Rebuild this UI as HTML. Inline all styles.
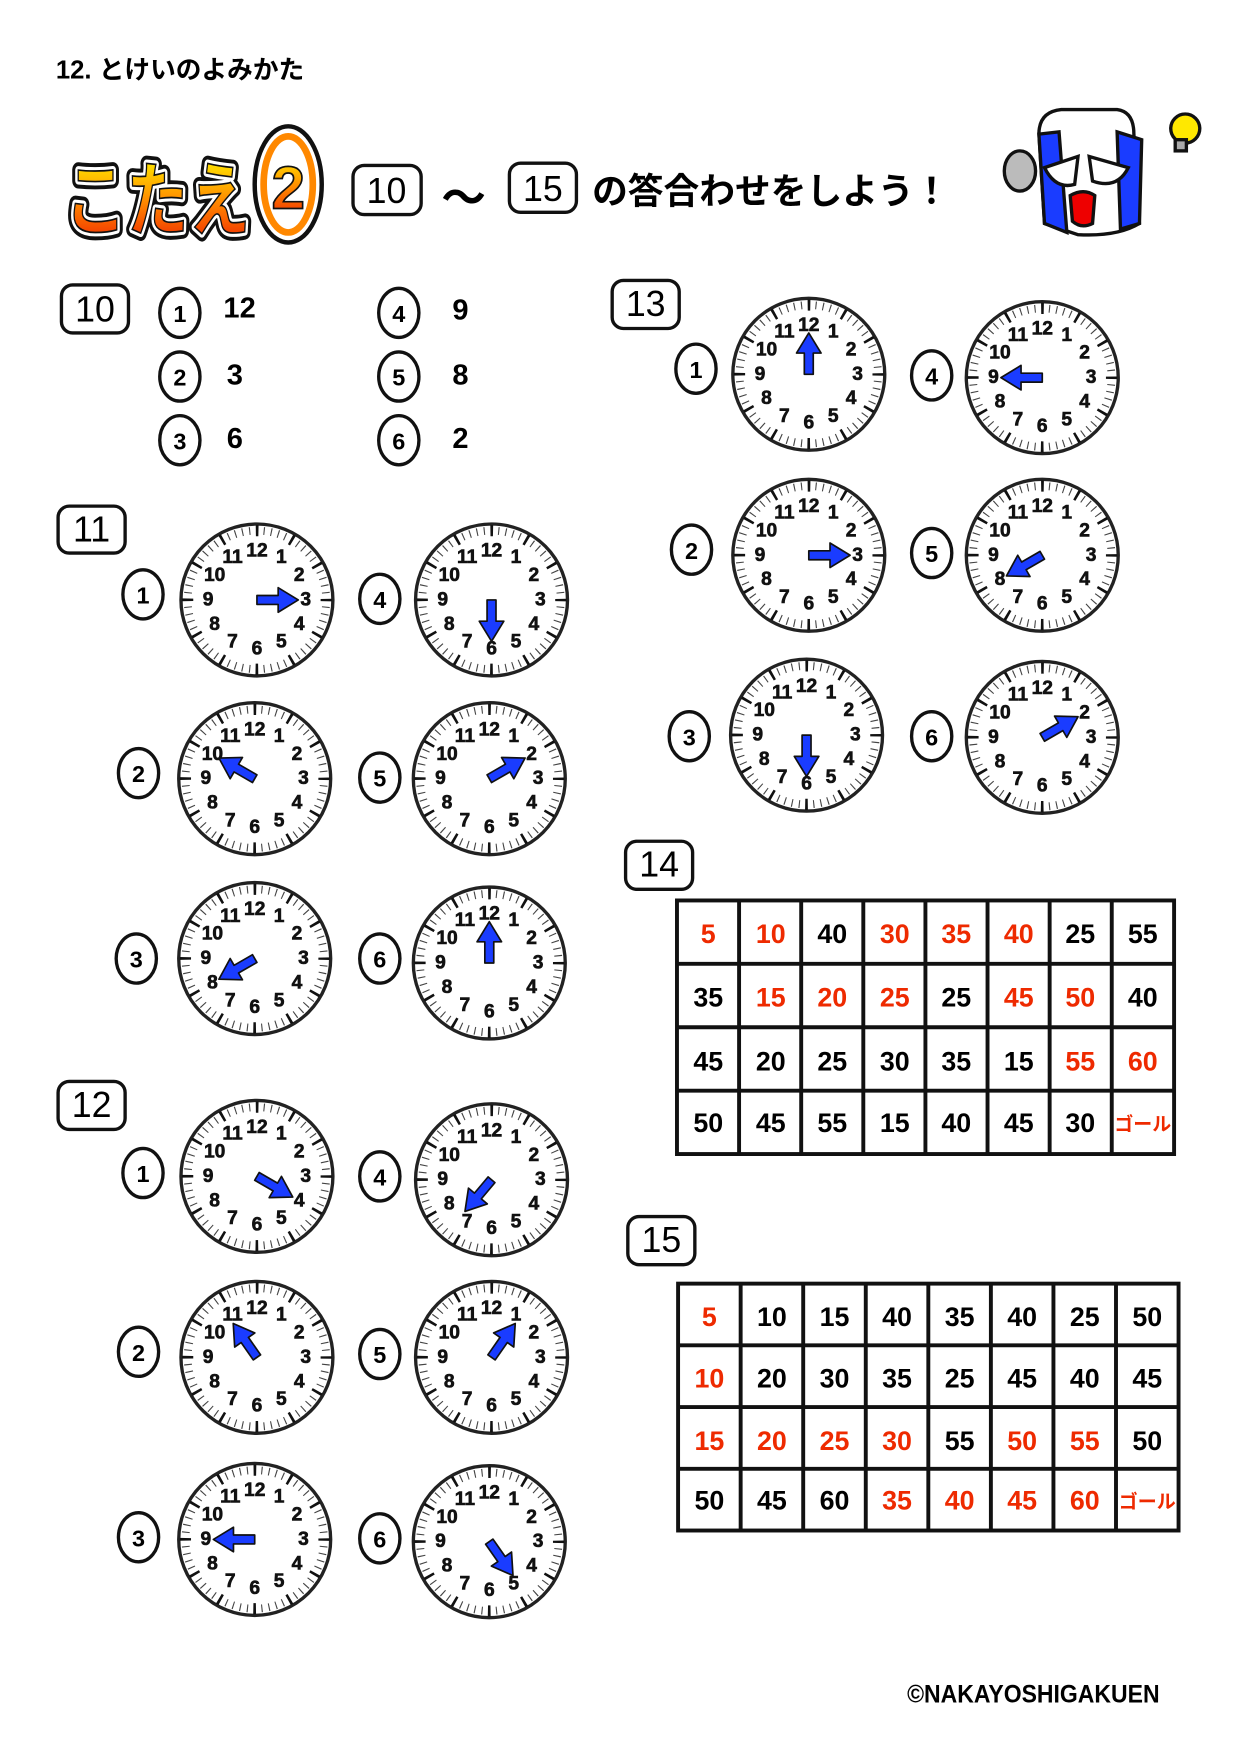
<!DOCTYPE html>
<html><head><meta charset="utf-8"><style>
html,body{margin:0;padding:0;background:#fff}
svg{display:block}
text{font-family:"Liberation Sans","Noto Sans CJK JP",sans-serif}
.f text{font-size:18.5px;font-weight:900;text-anchor:middle;dominant-baseline:central;fill:#111;stroke:#111;stroke-width:0.6}
.lb{font-size:21px;font-weight:bold;text-anchor:middle;dominant-baseline:central}
.bx{font-size:32px;text-anchor:middle;dominant-baseline:central;font-weight:normal}
.ans{font-size:26px;font-weight:bold;dominant-baseline:central}
.t text{font-size:24px;font-weight:bold;text-anchor:middle;dominant-baseline:central}
.r{fill:#ee2a00}
</style></head><body>
<svg width="1240" height="1754" viewBox="0 0 1110 1570" xmlns="http://www.w3.org/2000/svg">
<defs>
<linearGradient id="g" x1="0" y1="0" x2="0" y2="1"><stop offset="0" stop-color="#ffee00"/><stop offset="0.5" stop-color="#ff8800"/><stop offset="1" stop-color="#ee2200"/></linearGradient>
<g id="face">
<circle r="68" fill="#fff" stroke="#222" stroke-width="3"/>
<circle r="62" fill="none" stroke="#444" stroke-width="7" stroke-dasharray="1 5.49" stroke-dashoffset="0.5"/>
<circle r="62" fill="none" stroke="#111" stroke-width="10" stroke-dasharray="2.4 30.07" stroke-dashoffset="1.2"/>
</g>
<polygon id="hand" points="-4,0 4,0 4,-19 11,-19 0,-37 -11,-19 -4,-19" fill="#1a3cff" stroke="#111" stroke-width="1.5" stroke-linejoin="round"/>
</defs>

<text x="50" y="70" font-size="23" font-weight="bold">12. とけいのよみかた</text>

<!-- logo -->
<g font-size="72" font-weight="bold" font-family="'Noto Sans CJK JP',sans-serif">
<text x="58" y="205" textLength="166" lengthAdjust="spacingAndGlyphs" stroke="#111" stroke-width="14" stroke-linejoin="round" fill="#111">こたえ</text>
<text x="58" y="205" textLength="166" lengthAdjust="spacingAndGlyphs" stroke="#fff" stroke-width="7" stroke-linejoin="round" fill="#fff">こたえ</text>
<text x="58" y="205" textLength="166" lengthAdjust="spacingAndGlyphs" fill="url(#g)" stroke="#111" stroke-width="1.5">こたえ</text>
</g>
<ellipse cx="258" cy="165" rx="30" ry="52" fill="#fff" stroke="#111" stroke-width="4"/>
<ellipse cx="258" cy="165" rx="22" ry="43" fill="none" stroke="#f80" stroke-width="6"/>
<text x="258" y="168" font-size="54" font-weight="bold" fill="url(#g)" stroke="#111" stroke-width="1.5" text-anchor="middle" dominant-baseline="central">2</text>

<rect x="316" y="148" width="61" height="44" rx="10" fill="#fff" stroke="#111" stroke-width="3"/>
<text class="bx" x="346" y="171">10</text>
<text x="415" y="178" font-size="40" font-weight="bold" text-anchor="middle" dominant-baseline="central">〜</text>
<rect x="456" y="146" width="60" height="44" rx="10" fill="#fff" stroke="#111" stroke-width="3"/>
<text class="bx" x="486" y="169">15</text>
<text x="530" y="182" font-size="32" font-weight="bold">の答合わせをしよう！</text>

<!-- character -->
<g stroke="#111" stroke-width="3">
<ellipse cx="913" cy="153" rx="14" ry="18" fill="#bbb"/>
<path d="M930 120 Q930 100 950 98 L1000 98 Q1015 100 1015 120 L1020 200 Q1000 212 965 210 L935 200 Z" fill="#fff"/>
<path d="M930 120 L948 118 L955 208 L935 200 Z" fill="#1a3cff"/>
<path d="M1000 118 L1022 125 L1020 200 L1003 205 Z" fill="#1a3cff"/>
<path d="M935 150 L965 140 L962 165 Q945 170 935 150Z" fill="#fff"/>
<path d="M975 140 L1010 150 Q1000 170 978 162Z" fill="#fff"/>
<path d="M958 175 Q970 168 980 175 L978 200 Q968 205 960 198Z" fill="#e00"/>
<circle cx="1061" cy="115" r="13" fill="#ffe800"/>
<rect x="1052" y="125" width="10" height="10" fill="#aaa"/>
</g>

<!-- section 10 -->
<rect x="55" y="255" width="60" height="43" rx="10" fill="none" stroke="#111" stroke-width="3"/>
<text class="bx" x="85" y="277">10</text>
<g fill="none" stroke="#111" stroke-width="3">
<ellipse cx="161" cy="280" rx="18" ry="22"/><ellipse cx="161" cy="337" rx="18" ry="22"/><ellipse cx="161" cy="394" rx="18" ry="22"/>
<ellipse cx="357" cy="280" rx="18" ry="22"/><ellipse cx="357" cy="337" rx="18" ry="22"/><ellipse cx="357" cy="394" rx="18" ry="22"/>
</g>
<text class="lb" x="161" y="281">1</text><text class="lb" x="161" y="338">2</text><text class="lb" x="161" y="395">3</text>
<text class="lb" x="357" y="281">4</text><text class="lb" x="357" y="338">5</text><text class="lb" x="357" y="395">6</text>
<text class="ans" x="200" y="276">12</text><text class="ans" x="203" y="336">3</text><text class="ans" x="203" y="393">6</text>
<text class="ans" x="405" y="278">9</text><text class="ans" x="405" y="336">8</text><text class="ans" x="405" y="393">2</text>

<!-- section boxes -->
<rect x="52" y="453" width="60" height="42" rx="10" fill="none" stroke="#111" stroke-width="3"/><text class="bx" x="82" y="474">11</text>
<rect x="52" y="968" width="60" height="43" rx="10" fill="none" stroke="#111" stroke-width="3"/><text class="bx" x="82" y="989">12</text>
<rect x="548" y="251" width="60" height="43" rx="10" fill="none" stroke="#111" stroke-width="3"/><text class="bx" x="578" y="272">13</text>
<rect x="560" y="753" width="60" height="43" rx="10" fill="none" stroke="#111" stroke-width="3"/><text class="bx" x="590" y="774">14</text>
<rect x="562" y="1089" width="60" height="43" rx="10" fill="none" stroke="#111" stroke-width="3"/><text class="bx" x="592" y="1110">15</text>

<!-- label circles -->
<g fill="none" stroke="#111" stroke-width="3">
<ellipse cx="128" cy="532" rx="18" ry="22"/><ellipse cx="340" cy="536" rx="18" ry="22"/>
<ellipse cx="124" cy="692" rx="18" ry="22"/><ellipse cx="340" cy="696" rx="18" ry="22"/>
<ellipse cx="122" cy="858" rx="18" ry="22"/><ellipse cx="340" cy="858" rx="18" ry="22"/>
<ellipse cx="128" cy="1050" rx="18" ry="22"/><ellipse cx="340" cy="1053" rx="18" ry="22"/>
<ellipse cx="124" cy="1210" rx="18" ry="22"/><ellipse cx="340" cy="1212" rx="18" ry="22"/>
<ellipse cx="124" cy="1376" rx="18" ry="22"/><ellipse cx="340" cy="1377" rx="18" ry="22"/>
<ellipse cx="623" cy="330" rx="18" ry="22"/><ellipse cx="834" cy="336" rx="18" ry="22"/>
<ellipse cx="619" cy="492" rx="18" ry="22"/><ellipse cx="834" cy="495" rx="18" ry="22"/>
<ellipse cx="617" cy="659" rx="18" ry="22"/><ellipse cx="834" cy="659" rx="18" ry="22"/>
</g>
<text class="lb" x="128" y="533">1</text><text class="lb" x="340" y="537">4</text>
<text class="lb" x="124" y="693">2</text><text class="lb" x="340" y="697">5</text>
<text class="lb" x="122" y="859">3</text><text class="lb" x="340" y="859">6</text>
<text class="lb" x="128" y="1051">1</text><text class="lb" x="340" y="1054">4</text>
<text class="lb" x="124" y="1211">2</text><text class="lb" x="340" y="1213">5</text>
<text class="lb" x="124" y="1377">3</text><text class="lb" x="340" y="1378">6</text>
<text class="lb" x="623" y="331">1</text><text class="lb" x="834" y="337">4</text>
<text class="lb" x="619" y="493">2</text><text class="lb" x="834" y="496">5</text>
<text class="lb" x="617" y="660">3</text><text class="lb" x="834" y="660">6</text>

<!-- clocks -->
<g class="f" transform="translate(230,537)"><use href="#face"/><g transform="scale(0.93)"><text x="0" y="-47">12</text><text x="23.5" y="-40.7">1</text><text x="40.7" y="-23.5">2</text><text x="47" y="0">3</text><text x="40.7" y="23.5">4</text><text x="23.5" y="40.7">5</text><text x="0" y="47">6</text><text x="-23.5" y="40.7">7</text><text x="-40.7" y="23.5">8</text><text x="-47" y="0">9</text><text x="-40.7" y="-23.5">10</text><text x="-23.5" y="-40.7">11</text></g><use href="#hand" transform="rotate(90)"/></g>
<g class="f" transform="translate(440,537)"><use href="#face"/><g transform="scale(0.93)"><text x="0" y="-47">12</text><text x="23.5" y="-40.7">1</text><text x="40.7" y="-23.5">2</text><text x="47" y="0">3</text><text x="40.7" y="23.5">4</text><text x="23.5" y="40.7">5</text><text x="0" y="47">6</text><text x="-23.5" y="40.7">7</text><text x="-40.7" y="23.5">8</text><text x="-47" y="0">9</text><text x="-40.7" y="-23.5">10</text><text x="-23.5" y="-40.7">11</text></g><use href="#hand" transform="rotate(180)"/></g>
<g class="f" transform="translate(228,697)"><use href="#face"/><g transform="scale(0.93)"><text x="0" y="-47">12</text><text x="23.5" y="-40.7">1</text><text x="40.7" y="-23.5">2</text><text x="47" y="0">3</text><text x="40.7" y="23.5">4</text><text x="23.5" y="40.7">5</text><text x="0" y="47">6</text><text x="-23.5" y="40.7">7</text><text x="-40.7" y="23.5">8</text><text x="-47" y="0">9</text><text x="-40.7" y="-23.5">10</text><text x="-23.5" y="-40.7">11</text></g><use href="#hand" transform="rotate(300)"/></g>
<g class="f" transform="translate(438,697)"><use href="#face"/><g transform="scale(0.93)"><text x="0" y="-47">12</text><text x="23.5" y="-40.7">1</text><text x="40.7" y="-23.5">2</text><text x="47" y="0">3</text><text x="40.7" y="23.5">4</text><text x="23.5" y="40.7">5</text><text x="0" y="47">6</text><text x="-23.5" y="40.7">7</text><text x="-40.7" y="23.5">8</text><text x="-47" y="0">9</text><text x="-40.7" y="-23.5">10</text><text x="-23.5" y="-40.7">11</text></g><use href="#hand" transform="rotate(60)"/></g>
<g class="f" transform="translate(228,858)"><use href="#face"/><g transform="scale(0.93)"><text x="0" y="-47">12</text><text x="23.5" y="-40.7">1</text><text x="40.7" y="-23.5">2</text><text x="47" y="0">3</text><text x="40.7" y="23.5">4</text><text x="23.5" y="40.7">5</text><text x="0" y="47">6</text><text x="-23.5" y="40.7">7</text><text x="-40.7" y="23.5">8</text><text x="-47" y="0">9</text><text x="-40.7" y="-23.5">10</text><text x="-23.5" y="-40.7">11</text></g><use href="#hand" transform="rotate(240)"/></g>
<g class="f" transform="translate(438,862)"><use href="#face"/><g transform="scale(0.93)"><text x="0" y="-47">12</text><text x="23.5" y="-40.7">1</text><text x="40.7" y="-23.5">2</text><text x="47" y="0">3</text><text x="40.7" y="23.5">4</text><text x="23.5" y="40.7">5</text><text x="0" y="47">6</text><text x="-23.5" y="40.7">7</text><text x="-40.7" y="23.5">8</text><text x="-47" y="0">9</text><text x="-40.7" y="-23.5">10</text><text x="-23.5" y="-40.7">11</text></g><use href="#hand" transform="rotate(0)"/></g>

<g class="f" transform="translate(230,1053)"><use href="#face"/><g transform="scale(0.93)"><text x="0" y="-47">12</text><text x="23.5" y="-40.7">1</text><text x="40.7" y="-23.5">2</text><text x="47" y="0">3</text><text x="40.7" y="23.5">4</text><text x="23.5" y="40.7">5</text><text x="0" y="47">6</text><text x="-23.5" y="40.7">7</text><text x="-40.7" y="23.5">8</text><text x="-47" y="0">9</text><text x="-40.7" y="-23.5">10</text><text x="-23.5" y="-40.7">11</text></g><use href="#hand" transform="rotate(120)"/></g>
<g class="f" transform="translate(440,1056)"><use href="#face"/><g transform="scale(0.93)"><text x="0" y="-47">12</text><text x="23.5" y="-40.7">1</text><text x="40.7" y="-23.5">2</text><text x="47" y="0">3</text><text x="40.7" y="23.5">4</text><text x="23.5" y="40.7">5</text><text x="0" y="47">6</text><text x="-23.5" y="40.7">7</text><text x="-40.7" y="23.5">8</text><text x="-47" y="0">9</text><text x="-40.7" y="-23.5">10</text><text x="-23.5" y="-40.7">11</text></g><use href="#hand" transform="rotate(220)"/></g>
<g class="f" transform="translate(230,1215)"><use href="#face"/><g transform="scale(0.93)"><text x="0" y="-47">12</text><text x="23.5" y="-40.7">1</text><text x="40.7" y="-23.5">2</text><text x="47" y="0">3</text><text x="40.7" y="23.5">4</text><text x="23.5" y="40.7">5</text><text x="0" y="47">6</text><text x="-23.5" y="40.7">7</text><text x="-40.7" y="23.5">8</text><text x="-47" y="0">9</text><text x="-40.7" y="-23.5">10</text><text x="-23.5" y="-40.7">11</text></g><use href="#hand" transform="rotate(325)"/></g>
<g class="f" transform="translate(440,1215)"><use href="#face"/><g transform="scale(0.93)"><text x="0" y="-47">12</text><text x="23.5" y="-40.7">1</text><text x="40.7" y="-23.5">2</text><text x="47" y="0">3</text><text x="40.7" y="23.5">4</text><text x="23.5" y="40.7">5</text><text x="0" y="47">6</text><text x="-23.5" y="40.7">7</text><text x="-40.7" y="23.5">8</text><text x="-47" y="0">9</text><text x="-40.7" y="-23.5">10</text><text x="-23.5" y="-40.7">11</text></g><use href="#hand" transform="rotate(35)"/></g>
<g class="f" transform="translate(228,1378)"><use href="#face"/><g transform="scale(0.93)"><text x="0" y="-47">12</text><text x="23.5" y="-40.7">1</text><text x="40.7" y="-23.5">2</text><text x="47" y="0">3</text><text x="40.7" y="23.5">4</text><text x="23.5" y="40.7">5</text><text x="0" y="47">6</text><text x="-23.5" y="40.7">7</text><text x="-40.7" y="23.5">8</text><text x="-47" y="0">9</text><text x="-40.7" y="-23.5">10</text><text x="-23.5" y="-40.7">11</text></g><use href="#hand" transform="rotate(270)"/></g>
<g class="f" transform="translate(438,1380)"><use href="#face"/><g transform="scale(0.93)"><text x="0" y="-47">12</text><text x="23.5" y="-40.7">1</text><text x="40.7" y="-23.5">2</text><text x="47" y="0">3</text><text x="40.7" y="23.5">4</text><text x="23.5" y="40.7">5</text><text x="0" y="47">6</text><text x="-23.5" y="40.7">7</text><text x="-40.7" y="23.5">8</text><text x="-47" y="0">9</text><text x="-40.7" y="-23.5">10</text><text x="-23.5" y="-40.7">11</text></g><use href="#hand" transform="rotate(145)"/></g>

<g class="f" transform="translate(724,335)"><use href="#face"/><g transform="scale(0.93)"><text x="0" y="-47">12</text><text x="23.5" y="-40.7">1</text><text x="40.7" y="-23.5">2</text><text x="47" y="0">3</text><text x="40.7" y="23.5">4</text><text x="23.5" y="40.7">5</text><text x="0" y="47">6</text><text x="-23.5" y="40.7">7</text><text x="-40.7" y="23.5">8</text><text x="-47" y="0">9</text><text x="-40.7" y="-23.5">10</text><text x="-23.5" y="-40.7">11</text></g><use href="#hand" transform="rotate(0)"/></g>
<g class="f" transform="translate(933,338)"><use href="#face"/><g transform="scale(0.93)"><text x="0" y="-47">12</text><text x="23.5" y="-40.7">1</text><text x="40.7" y="-23.5">2</text><text x="47" y="0">3</text><text x="40.7" y="23.5">4</text><text x="23.5" y="40.7">5</text><text x="0" y="47">6</text><text x="-23.5" y="40.7">7</text><text x="-40.7" y="23.5">8</text><text x="-47" y="0">9</text><text x="-40.7" y="-23.5">10</text><text x="-23.5" y="-40.7">11</text></g><use href="#hand" transform="rotate(270)"/></g>
<g class="f" transform="translate(724,497)"><use href="#face"/><g transform="scale(0.93)"><text x="0" y="-47">12</text><text x="23.5" y="-40.7">1</text><text x="40.7" y="-23.5">2</text><text x="47" y="0">3</text><text x="40.7" y="23.5">4</text><text x="23.5" y="40.7">5</text><text x="0" y="47">6</text><text x="-23.5" y="40.7">7</text><text x="-40.7" y="23.5">8</text><text x="-47" y="0">9</text><text x="-40.7" y="-23.5">10</text><text x="-23.5" y="-40.7">11</text></g><use href="#hand" transform="rotate(90)"/></g>
<g class="f" transform="translate(933,497)"><use href="#face"/><g transform="scale(0.93)"><text x="0" y="-47">12</text><text x="23.5" y="-40.7">1</text><text x="40.7" y="-23.5">2</text><text x="47" y="0">3</text><text x="40.7" y="23.5">4</text><text x="23.5" y="40.7">5</text><text x="0" y="47">6</text><text x="-23.5" y="40.7">7</text><text x="-40.7" y="23.5">8</text><text x="-47" y="0">9</text><text x="-40.7" y="-23.5">10</text><text x="-23.5" y="-40.7">11</text></g><use href="#hand" transform="rotate(240)"/></g>
<g class="f" transform="translate(722,658)"><use href="#face"/><g transform="scale(0.93)"><text x="0" y="-47">12</text><text x="23.5" y="-40.7">1</text><text x="40.7" y="-23.5">2</text><text x="47" y="0">3</text><text x="40.7" y="23.5">4</text><text x="23.5" y="40.7">5</text><text x="0" y="47">6</text><text x="-23.5" y="40.7">7</text><text x="-40.7" y="23.5">8</text><text x="-47" y="0">9</text><text x="-40.7" y="-23.5">10</text><text x="-23.5" y="-40.7">11</text></g><use href="#hand" transform="rotate(180)"/></g>
<g class="f" transform="translate(933,660)"><use href="#face"/><g transform="scale(0.93)"><text x="0" y="-47">12</text><text x="23.5" y="-40.7">1</text><text x="40.7" y="-23.5">2</text><text x="47" y="0">3</text><text x="40.7" y="23.5">4</text><text x="23.5" y="40.7">5</text><text x="0" y="47">6</text><text x="-23.5" y="40.7">7</text><text x="-40.7" y="23.5">8</text><text x="-47" y="0">9</text><text x="-40.7" y="-23.5">10</text><text x="-23.5" y="-40.7">11</text></g><use href="#hand" transform="rotate(60)"/></g>

<!-- table 14 -->
<g fill="none" stroke="#111" stroke-width="3.5">
<rect x="606" y="806" width="445" height="227"/>
<path d="M661.6 806V1033M717.2 806V1033M772.8 806V1033M828.4 806V1033M884 806V1033M939.6 806V1033M995.2 806V1033M606 862.75H1051M606 919.5H1051M606 976.25H1051"/>
</g>
<g class="t">
<text x="634" y="836" class="r">5</text><text x="690" y="836" class="r">10</text><text x="745" y="836">40</text><text x="801" y="836" class="r">30</text><text x="856" y="836" class="r">35</text><text x="912" y="836" class="r">40</text><text x="967" y="836">25</text><text x="1023" y="836">55</text>
<text x="634" y="893">35</text><text x="690" y="893" class="r">15</text><text x="745" y="893" class="r">20</text><text x="801" y="893" class="r">25</text><text x="856" y="893">25</text><text x="912" y="893" class="r">45</text><text x="967" y="893" class="r">50</text><text x="1023" y="893">40</text>
<text x="634" y="950">45</text><text x="690" y="950">20</text><text x="745" y="950">25</text><text x="801" y="950">30</text><text x="856" y="950">35</text><text x="912" y="950">15</text><text x="967" y="950" class="r">55</text><text x="1023" y="950" class="r">60</text>
<text x="634" y="1005">50</text><text x="690" y="1005">45</text><text x="745" y="1005">55</text><text x="801" y="1005">15</text><text x="856" y="1005">40</text><text x="912" y="1005">45</text><text x="967" y="1005">30</text><text x="1023" y="1007" class="r" style="font-size:17px">ゴール</text>
</g>

<!-- table 15 -->
<g fill="none" stroke="#111" stroke-width="3.5">
<rect x="607" y="1149" width="448" height="221"/>
<path d="M663 1149V1370M719 1149V1370M775 1149V1370M831 1149V1370M887 1149V1370M943 1149V1370M999 1149V1370M607 1204.25H1055M607 1259.5H1055M607 1314.75H1055"/>
</g>
<g class="t">
<text x="635" y="1179" class="r">5</text><text x="691" y="1179">10</text><text x="747" y="1179">15</text><text x="803" y="1179">40</text><text x="859" y="1179">35</text><text x="915" y="1179">40</text><text x="971" y="1179">25</text><text x="1027" y="1179">50</text>
<text x="635" y="1234" class="r">10</text><text x="691" y="1234">20</text><text x="747" y="1234">30</text><text x="803" y="1234">35</text><text x="859" y="1234">25</text><text x="915" y="1234">45</text><text x="971" y="1234">40</text><text x="1027" y="1234">45</text>
<text x="635" y="1290" class="r">15</text><text x="691" y="1290" class="r">20</text><text x="747" y="1290" class="r">25</text><text x="803" y="1290" class="r">30</text><text x="859" y="1290">55</text><text x="915" y="1290" class="r">50</text><text x="971" y="1290" class="r">55</text><text x="1027" y="1290">50</text>
<text x="635" y="1343">50</text><text x="691" y="1343">45</text><text x="747" y="1343">60</text><text x="803" y="1343" class="r">35</text><text x="859" y="1343" class="r">40</text><text x="915" y="1343" class="r">45</text><text x="971" y="1343" class="r">60</text><text x="1027" y="1345" class="r" style="font-size:17px">ゴール</text>
</g>

<text x="1038" y="1524" font-size="22" font-weight="bold" text-anchor="end" textLength="226" lengthAdjust="spacingAndGlyphs">©NAKAYOSHIGAKUEN</text>
</svg>
</body></html>
